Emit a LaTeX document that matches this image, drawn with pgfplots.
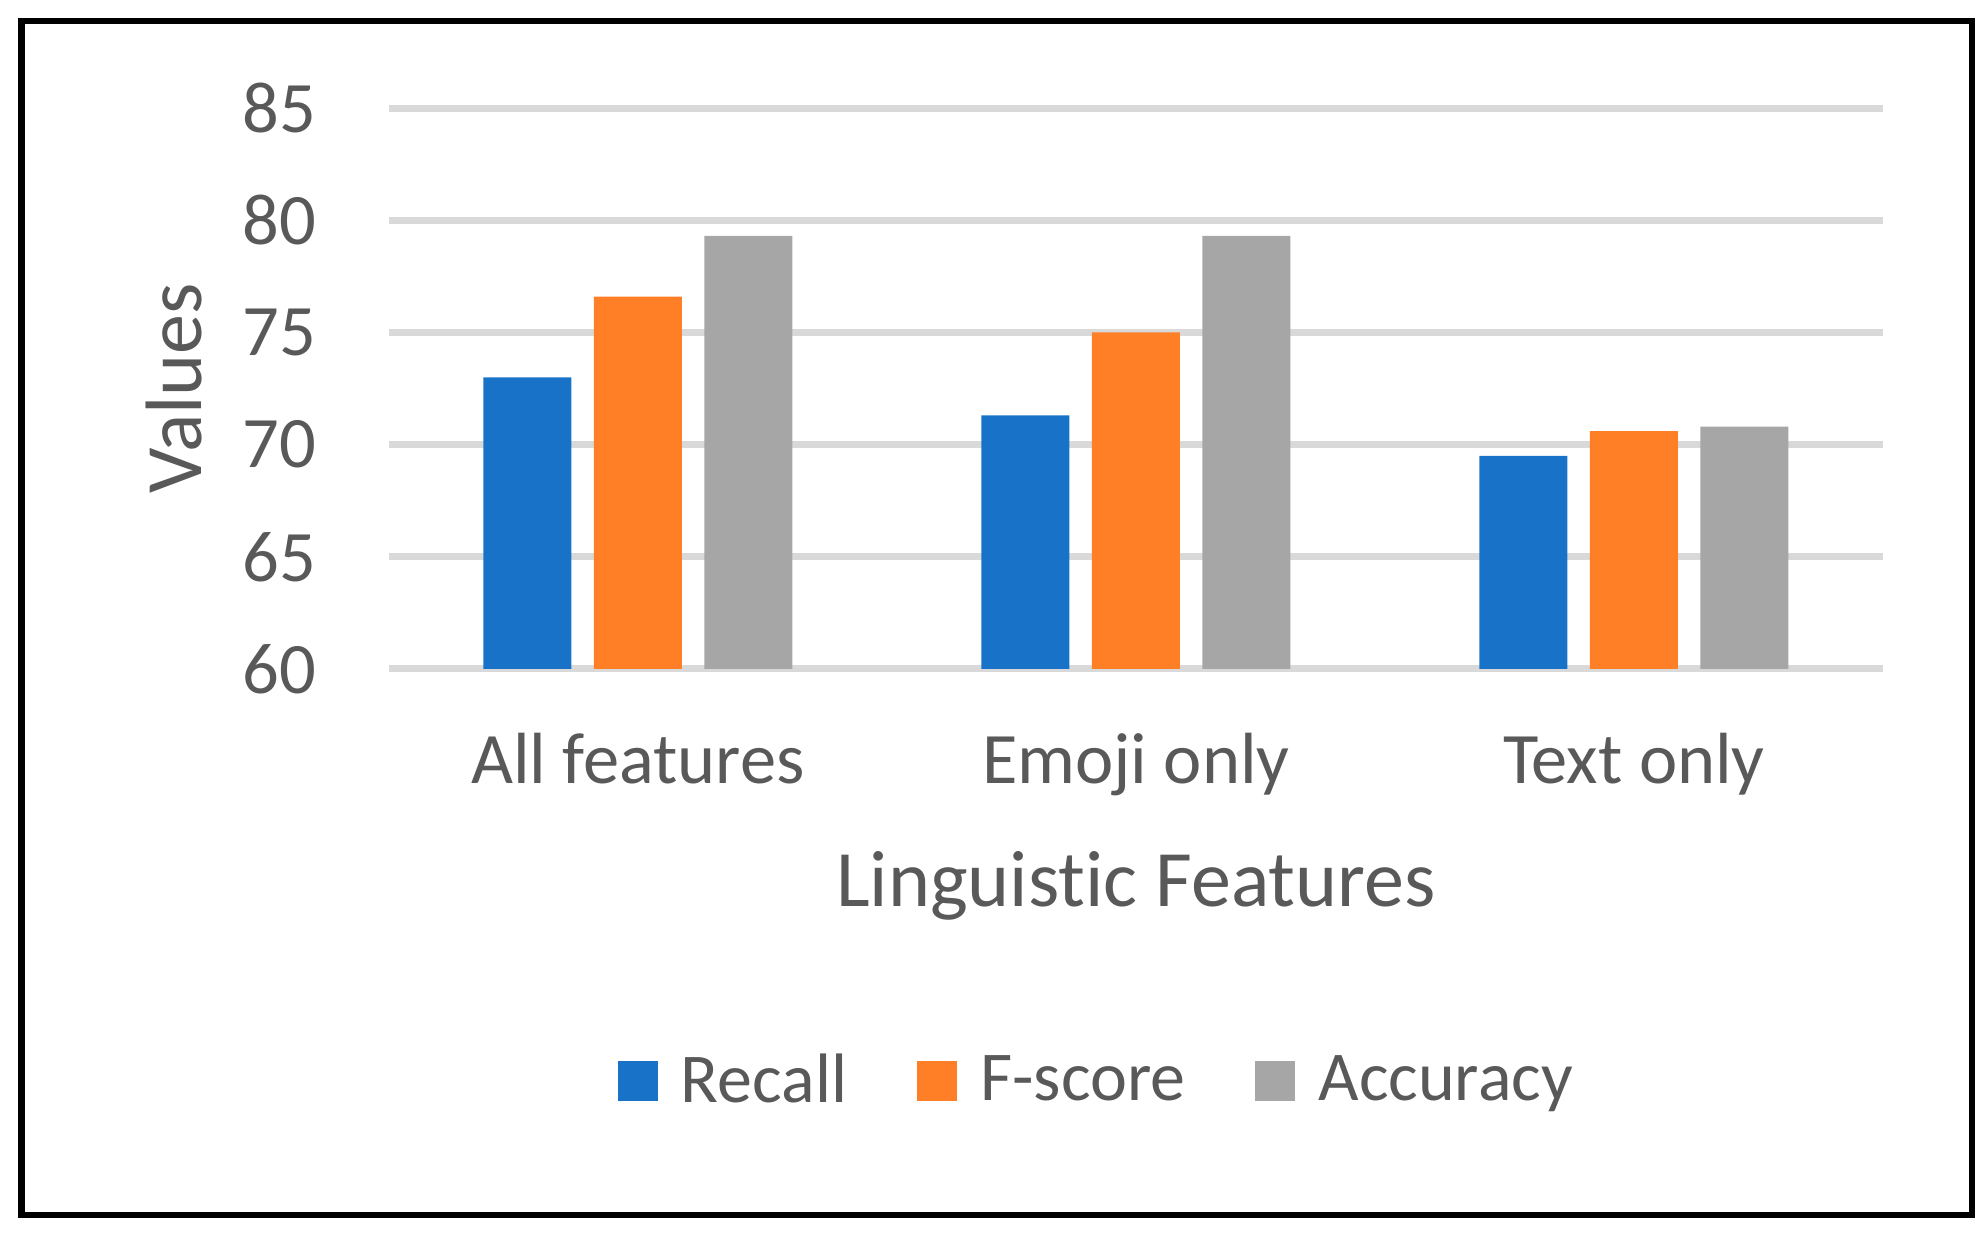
\documentclass[border=0pt]{standalone}
\usepackage{fontspec}
\setmainfont{Carlito}[Ligatures=NoCommon]
\usepackage{pgfplots}
\pgfplotsset{compat=1.18}
\definecolor{recallblue}{HTML}{1873C8}
\definecolor{fscoreorange}{HTML}{FF7F27}
\definecolor{accgray}{HTML}{A6A6A6}
\definecolor{gridgray}{HTML}{D9D9D9}
\definecolor{labelgray}{HTML}{595959}

\begin{document}
\begin{tikzpicture}
\path[use as bounding box] (0,0) rectangle (397pt,246.6pt);
\draw[line width=1.3pt] (4.3pt,3.6pt) rectangle (394.4pt,242.4pt);
\begin{axis}[
  at={(77.8pt,112.8pt)}, anchor=south west,
  scale only axis, width=298.8pt, height=112.2pt,
  ybar=4.5pt, bar width=17.6pt,
  xmin=-0.5, xmax=2.5, ymin=60, ymax=85,
  xtick={0,1,2},
  xticklabels={All features, Emoji only, Text only},
  ytick={60,65,70,75,80,85},
  yticklabels={60,65,70,75,80,85},
  /pgf/number format/assume math mode=true,
  axis line style={draw=none},
  major tick length=0pt,
  ymajorgrids=true,
  grid style={line width=1.4pt, gridgray},
  tick label style={font=\fontsize{14.5}{17}\selectfont, text=labelgray, inner sep=0pt},
  xticklabel style={anchor=base, yshift=-23pt},
  yticklabel style={anchor=east, xshift=-14.4pt},
  xlabel={Linguistic Features},
  ylabel={Values},
  label style={font=\fontsize{16}{19}\selectfont, text=labelgray, inner sep=0pt},
  xlabel style={at={(axis description cs:0.5,-0.4242)}, anchor=base},
  ylabel style={at={(axis description cs:-0.1252,0.5)}, anchor=base, rotate=0},
  legend columns=3,
  legend image code/.code={\fill[#1] (0pt,-3.8pt) rectangle (8pt,4.2pt);},
  legend style={draw=none, fill=none, inner sep=0pt,
    at={(axis description cs:0.1526,-0.736)}, anchor=base west,
    font=\fontsize{14}{17}\selectfont, text=labelgray,
    nodes={inner sep=0pt},
    /tikz/every odd column/.append style={column sep=4.6pt},
    /tikz/every even column/.append style={column sep=14pt}},
]
\addplot[fill=recallblue, draw=none] coordinates {(0,73.0) (1,71.3) (2,69.5)};
\addplot[fill=fscoreorange, draw=none] coordinates {(0,76.6) (1,75.0) (2,70.6)};
\addplot[fill=accgray, draw=none] coordinates {(0,79.3) (1,79.3) (2,70.8)};
\legend{Recall, F-score, Accuracy}
\end{axis}
\end{tikzpicture}
\end{document}
